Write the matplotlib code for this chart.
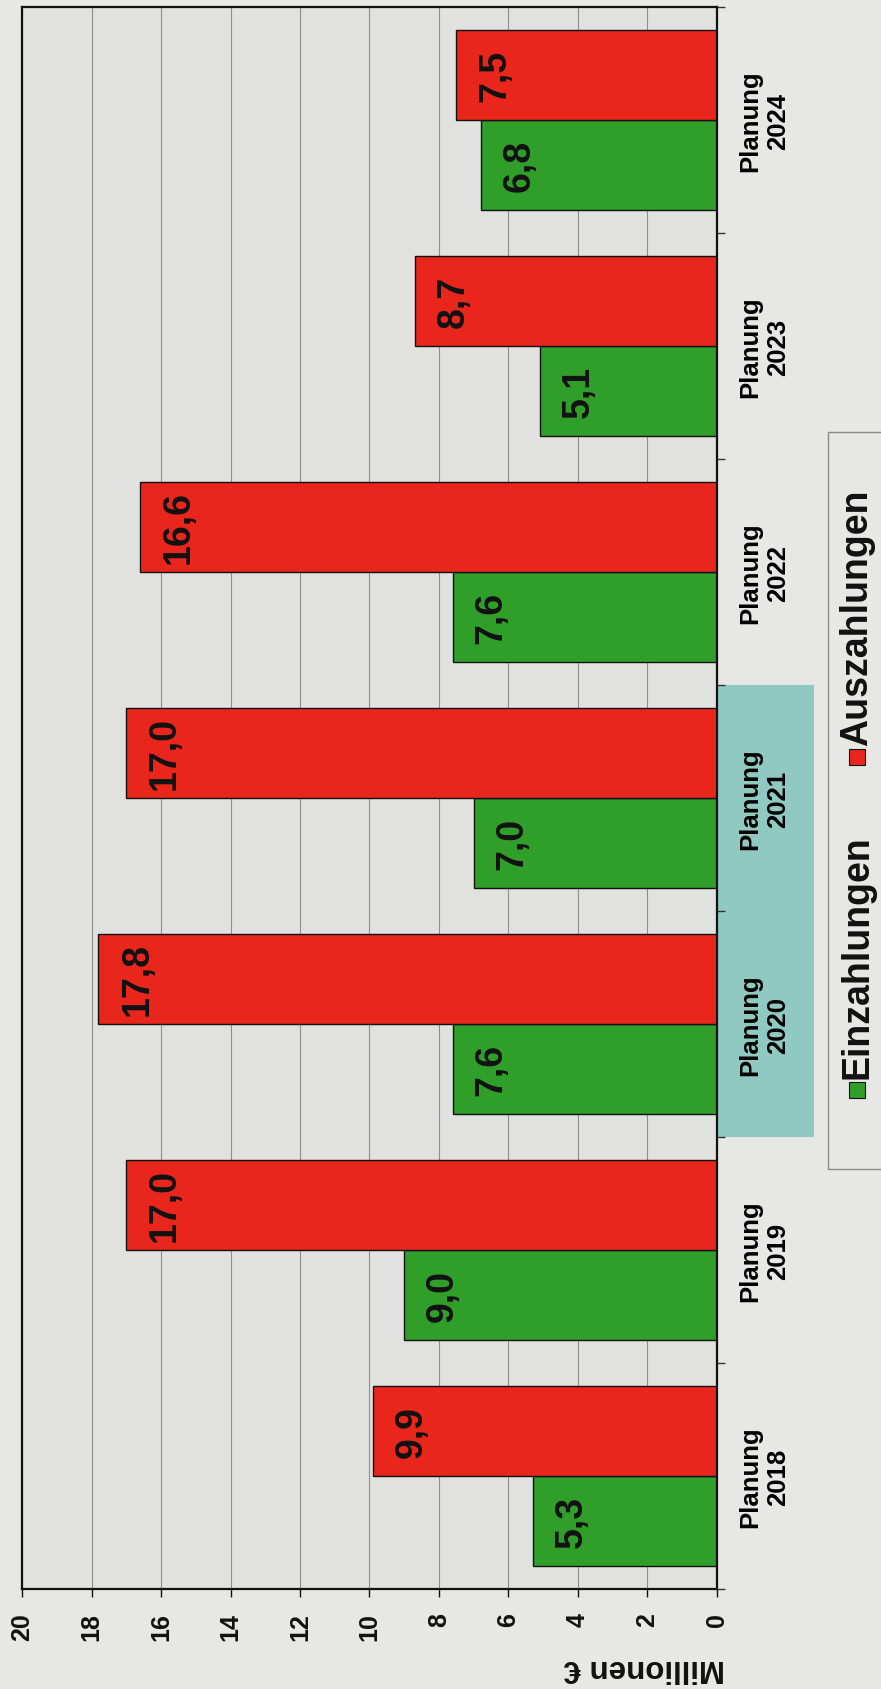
import matplotlib.pyplot as plt
from matplotlib.patches import Rectangle
from matplotlib.transforms import blended_transform_factory
import numpy as np

plt.rcParams['font.family'] = ['Liberation Sans', 'DejaVu Sans']
plt.rcParams['font.weight'] = 'bold'

years = ['2018', '2019', '2020', '2021', '2022', '2023', '2024']
einzahlungen = [5.3, 9.0, 7.6, 7.0, 7.6, 5.1, 6.8]
auszahlungen = [9.9, 17.0, 17.8, 17.0, 16.6, 8.7, 7.5]
value_ticks = [0, 2, 4, 6, 8, 10, 12, 14, 16, 18, 20]
highlight = ['2020', '2021']

green = '#2f9f2a'
red = '#e8261b'
bg = '#e7e7e5'

W, H = 881, 1690
fig = plt.figure(figsize=(W / 100, H / 100), dpi=100, facecolor=bg)
ax = fig.add_axes([22 / W, 1 - 1590 / H, (717 - 22) / W, (1590 - 8) / H])
ax.set_facecolor('#e1e1e0')
ax.set_axisbelow(True)

pos = np.arange(len(years))
bw = 0.4
ax.barh(pos - bw / 2, einzahlungen, height=bw, color=green, edgecolor='#111111', linewidth=1.0)
ax.barh(pos + bw / 2, auszahlungen, height=bw, color=red, edgecolor='#111111', linewidth=1.0)

for vals, off in ((einzahlungen, -bw / 2), (auszahlungen, bw / 2)):
    for p, v in zip(pos, vals):
        ax.annotate(f'{v:.1f}'.replace('.', ','), xy=(v, p + off), xytext=(15, 0),
                    textcoords='offset points', ha='left', va='center',
                    rotation=90, fontsize=27, fontweight='bold', color='#111111')

ax.set_xlim(20, 0)
ax.set_ylim(-0.5, len(years) - 0.5)
ax.set_xticks(value_ticks)
ax.set_xticklabels([str(t) for t in value_ticks], rotation=90, fontsize=18, fontweight='bold')
ax.tick_params(axis='x', length=6, width=1, pad=11, colors='#111111')
ax.grid(axis='x', color='#8e8e8e', linewidth=0.8)

ax.yaxis.tick_right()
ax.set_yticks(pos)
ax.set_yticklabels(['Planung\n' + y for y in years], rotation=90, fontsize=18.5,
                   fontweight='bold', ha='left', va='center', multialignment='center')
ax.tick_params(axis='y', which='major', length=0, pad=15)
ax.set_yticks(np.arange(len(years) + 1) - 0.5, minor=True)
ax.tick_params(axis='y', which='minor', length=6, width=1, color='#333333', right=True, left=False)

for s in ax.spines.values():
    s.set_color('#111111')
    s.set_linewidth(1.6)

# teal highlight behind 2020/2021 labels
tr = blended_transform_factory(ax.transAxes, ax.transData)
i0 = years.index(highlight[0])
i1 = years.index(highlight[-1])
ax.add_patch(Rectangle((1.0015, i0 - 0.5), 96 / 695, i1 - i0 + 1, transform=tr,
                       facecolor='#8fc9c1', edgecolor='none', clip_on=False, zorder=0.3))

# axis title (upside down, as in the scan)
fig.text(725 / W, 1 - 1668 / H, 'Millionen €', rotation=180, ha='right', va='center',
         fontsize=22.5, fontweight='bold', color='#111111')

# legend drawn by hand, rotated
fig.patches.append(Rectangle((828 / W, 1 - 1170 / H), 120 / W, (1170 - 433) / H,
                             transform=fig.transFigure, facecolor='none',
                             edgecolor='#8a8a8a', linewidth=1.0))
for name, col, sq_top in (('Einzahlungen', green, 1083), ('Auszahlungen', red, 750)):
    fig.patches.append(Rectangle((849 / W, 1 - (sq_top + 16) / H), 16 / W, 16 / H,
                                 transform=fig.transFigure, facecolor=col,
                                 edgecolor='#111111', linewidth=0.8))
    fig.text(857 / W, 1 - (sq_top - 4) / H, name, rotation=90, ha='center', va='bottom',
             fontsize=27, fontweight='bold', color='#111111')

fig.savefig('out.png', dpi=100, facecolor=bg)
